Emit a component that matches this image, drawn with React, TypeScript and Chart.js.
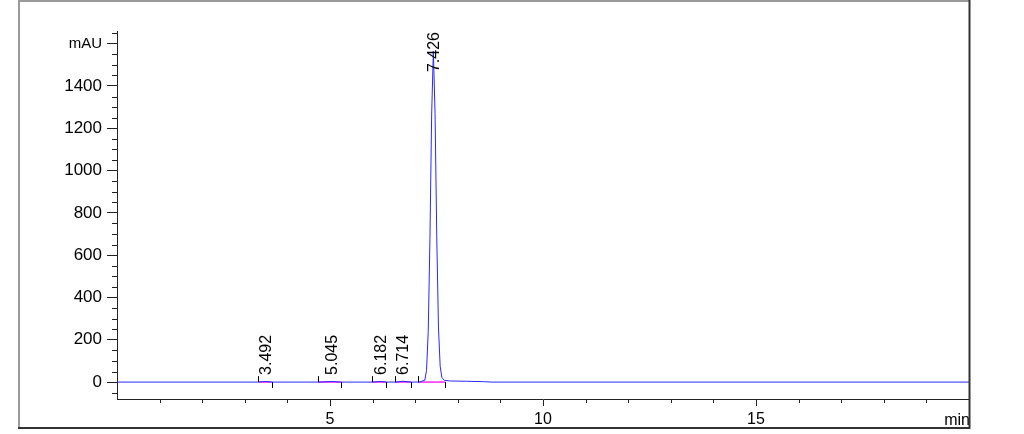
import React, { useEffect, useRef } from "react";
import { Chart, registerables } from "chart.js";

Chart.register(...registerables);

// Chromatogram signal (min, mAU)
const signalTimes = [0, 3.3, 3.49, 3.65, 4.75, 5.045, 5.25, 6.0, 6.182, 6.32, 6.55, 6.714, 6.9, 7.1, 7.226, 7.266, 7.306, 7.346, 7.386, 7.426, 7.466, 7.506, 7.546, 7.586, 7.626, 7.686, 7.83, 8.2, 8.6, 8.8, 20];
const signalValues = [0, 0, 3, 0, 0, 3, 0, 0, 3, 0, 0, 4, 0, 0, 9, 56, 240, 677, 1263, 1565, 1270, 690, 260, 75, 22, 8, 5, 4, 2, 0, 0];

// Integrated peaks
const peakTimes = [3.492, 5.045, 6.182, 6.714, 7.426];
const peakLabels = ["3.492", "5.045", "6.182", "6.714", "7.426"];
const peakStarts = [3.32, 4.73, 5.98, 6.53, 7.07];
const peakEnds = [3.63, 5.25, 6.31, 6.9, 7.71];
const peakLabelLevels = [34, 34, 34, 34, 1466];

// Axes
const xMin = 0;
const xMax = 20;
const yMin = -80;
const yMax = 1660;
const xMajorTicks = [5, 10, 15];
const xMinorTicks = [1, 2, 3, 4, 6, 7, 8, 9, 11, 12, 13, 14, 16, 17, 18, 19];
const yMajorTicks = [0, 200, 400, 600, 800, 1000, 1200, 1400, 1600];
const yMinorTicks = [-50, 50, 100, 150, 250, 300, 350, 450, 500, 550, 650, 700, 750, 850, 900, 950, 1050, 1100, 1150, 1250, 1300, 1350, 1450, 1500, 1550, 1650];
const yUnitLabel = "mAU";
const xUnitLabel = "min";

const FONT = "'Liberation Sans', Arial, sans-serif";
const AXIS_COLOR = "#222";

const decorPlugin = {
  id: "decor",
  afterDatasetsDraw(chart: any) {
    const ctx = chart.ctx;
    const xs = chart.scales.x;
    const ys = chart.scales.y;
    const y0 = ys.getPixelForValue(0);
    ctx.save();
    // baseline start / end markers
    ctx.strokeStyle = "#000";
    ctx.lineWidth = 1;
    peakStarts.forEach((t, i) => {
      const xa = Math.round(xs.getPixelForValue(t)) + 0.5;
      ctx.beginPath();
      ctx.moveTo(xa, y0);
      ctx.lineTo(xa, y0 - 6);
      ctx.stroke();
      const xb = Math.round(xs.getPixelForValue(peakEnds[i])) + 0.5;
      ctx.beginPath();
      ctx.moveTo(xb, y0);
      ctx.lineTo(xb, y0 + 6);
      ctx.stroke();
    });
    // peak labels
    ctx.fillStyle = "#000";
    ctx.font = `16px ${FONT}`;
    ctx.textAlign = "left";
    ctx.textBaseline = "middle";
    peakTimes.forEach((t, i) => {
      const px = xs.getPixelForValue(t);
      const py = ys.getPixelForValue(peakLabelLevels[i]);
      ctx.save();
      ctx.translate(px, py);
      ctx.rotate(-Math.PI / 2);
      ctx.fillText(peakLabels[i], 0, 1);
      ctx.restore();
    });
    ctx.restore();
  },
  afterDraw(chart: any) {
    const ctx = chart.ctx;
    const xs = chart.scales.x;
    const ys = chart.scales.y;
    const area = chart.chartArea;
    ctx.save();
    ctx.strokeStyle = AXIS_COLOR;
    ctx.lineWidth = 1;
    // minor ticks
    xMinorTicks.forEach((t) => {
      const px = Math.round(xs.getPixelForValue(t)) + 0.5;
      ctx.beginPath();
      ctx.moveTo(px, area.bottom);
      ctx.lineTo(px, area.bottom + 4);
      ctx.stroke();
    });
    yMinorTicks.forEach((v) => {
      const py = Math.round(ys.getPixelForValue(v)) + 0.5;
      ctx.beginPath();
      ctx.moveTo(area.left, py);
      ctx.lineTo(area.left - 5, py);
      ctx.stroke();
    });
    // x unit label
    ctx.fillStyle = "#000";
    ctx.font = `16px ${FONT}`;
    ctx.textAlign = "right";
    ctx.textBaseline = "middle";
    ctx.fillText(xUnitLabel, area.right + 1, 421);
    // outer frame
    ctx.lineWidth = 2;
    ctx.strokeStyle = "#9a9a9a";
    ctx.beginPath();
    ctx.moveTo(19, 428);
    ctx.lineTo(19, 1);
    ctx.lineTo(969.5, 1);
    ctx.stroke();
    ctx.strokeStyle = "#333";
    ctx.beginPath();
    ctx.moveTo(969.5, 0);
    ctx.lineTo(969.5, 428);
    ctx.lineTo(18, 428);
    ctx.stroke();
    ctx.restore();
  },
};

export default function App() {
  const canvasRef = useRef<HTMLCanvasElement | null>(null);

  useEffect(() => {
    document.body.style.margin = "0";
    const canvas = canvasRef.current;
    if (!canvas) return;

    const signal = signalTimes.map((t, i) => ({ x: t, y: signalValues[i] }));
    const baselineSets = peakStarts.map((s, i) => ({
      label: `baseline ${peakLabels[i]}`,
      data: [
        { x: s, y: 0 },
        { x: peakEnds[i], y: 0 },
      ],
      borderColor: "rgb(255, 40, 255)",
      borderWidth: 1.5,
      pointRadius: 0,
      tension: 0,
    }));

    const chart = new Chart(canvas, {
      type: "line",
      data: {
        datasets: [
          {
            label: "signal",
            data: signal,
            borderColor: "rgb(40, 40, 255)",
            borderWidth: 1,
            pointRadius: 0,
            tension: 0,
          },
          ...baselineSets,
        ],
      },
      options: {
        responsive: false,
        animation: false,
        devicePixelRatio: 1,
        layout: { padding: { left: 0, top: 31, right: 55, bottom: 0 } },
        plugins: {
          legend: { display: false },
          tooltip: { enabled: false },
        },
        scales: {
          x: {
            type: "linear",
            min: xMin,
            max: xMax,
            afterBuildTicks: (scale: any) => {
              scale.ticks = xMajorTicks.map((v) => ({ value: v }));
            },
            afterFit: (scale: any) => {
              scale.height = 434 - 399;
            },
            grid: {
              display: true,
              drawOnChartArea: false,
              drawTicks: true,
              tickLength: 7,
              color: AXIS_COLOR,
            },
            border: { display: true, color: AXIS_COLOR, width: 1 },
            ticks: {
              color: "#000",
              font: { family: FONT, size: 16 },
              padding: 4,
              maxRotation: 0,
              autoSkip: false,
              callback: (v: any) => String(v),
            },
          },
          y: {
            type: "linear",
            min: yMin,
            max: yMax,
            afterBuildTicks: (scale: any) => {
              scale.ticks = yMajorTicks.map((v) => ({ value: v }));
            },
            afterFit: (scale: any) => {
              scale.width = 117;
            },
            grid: {
              display: true,
              drawOnChartArea: false,
              drawTicks: true,
              tickLength: 10,
              color: AXIS_COLOR,
            },
            border: { display: true, color: AXIS_COLOR, width: 1 },
            ticks: {
              color: "#000",
              autoSkip: false,
              padding: 5,
              font: (c: any) => ({
                family: FONT,
                size: c.tick && c.tick.value === 1600 ? 15 : 17,
              }),
              callback: (v: any) => (v === 1600 ? yUnitLabel : String(v)),
            },
          },
        },
      },
      plugins: [decorPlugin],
    });

    return () => chart.destroy();
  }, []);

  return (
    <div style={{ position: "absolute", left: 0, top: 0, width: 1024, height: 434, background: "#fff" }}>
      <canvas ref={canvasRef} width={1024} height={434} style={{ display: "block", width: 1024, height: 434 }} />
    </div>
  );
}
